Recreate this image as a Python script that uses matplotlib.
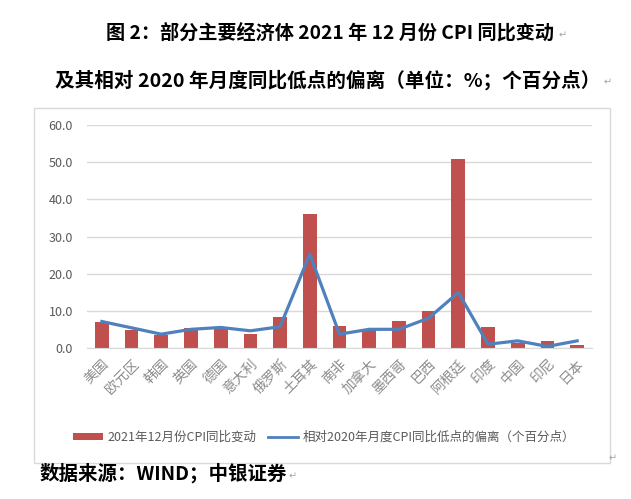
import matplotlib
matplotlib.use('Agg')
from matplotlib import pyplot as plt
from matplotlib.patches import Rectangle, Patch
from matplotlib.lines import Line2D
import numpy as np

plt.rcParams['font.family'] = ['Noto Sans CJK SC', 'DejaVu Sans']

paises = ['美国', '欧元区', '韩国', '英国', '德国', '意大利', '俄罗斯', '土耳其', '南非',
          '加拿大', '墨西哥', '巴西', '阿根廷', '印度', '中国', '印尼', '日本']
cpi_2021_12 = [7.0, 5.0, 3.7, 5.4, 5.3, 3.9, 8.4, 36.1, 5.9,
               4.8, 7.4, 10.1, 50.9, 5.6, 1.5, 1.9, 0.8]
desvio_baixa = [7.2, 5.5, 3.8, 5.1, 5.6, 4.7, 5.8, 25.3, 3.8,
                5.1, 5.1, 8.1, 15.0, 1.1, 2.0, 0.5, 2.0]

nome_barra = '2021年12月份CPI同比变动'
nome_linha = '相对2020年月度CPI同比低点的偏离（个百分点）'

W, H = 631, 499
fig = plt.figure(figsize=(W / 100, H / 100), dpi=100)

# moldura do grafico
fig.patches.append(Rectangle((34 / W, 1 - 463 / H), (610 - 34) / W, (463 - 108) / H,
                             transform=fig.transFigure, fill=False,
                             edgecolor='#D9D9D9', linewidth=1))

ax = fig.add_axes([87 / W, 1 - 348.3 / H, (592 - 87) / W, (348.3 - 125) / H])
x = np.arange(len(paises))
ax.bar(x, cpi_2021_12, width=0.46, color='#C0504D', zorder=2)
ax.plot(x, desvio_baixa, color='#4F81BD', linewidth=2.3, zorder=3)

ax.set_xlim(-0.5, len(paises) - 0.5)
ax.set_ylim(0, 60)
ax.set_yticks(np.arange(0, 61, 10))
ax.set_yticklabels([f'{v:.1f}' for v in np.arange(0, 61, 10)])
ax.yaxis.grid(True, color='#D9D9D9', linewidth=1, zorder=0)
ax.set_axisbelow(True)
for lado in ['top', 'right', 'left']:
    ax.spines[lado].set_visible(False)
ax.spines['bottom'].set_color('#D9D9D9')
ax.tick_params(axis='y', length=0, labelsize=9, labelcolor='#595959', pad=10)
ax.tick_params(axis='x', length=0, labelsize=10, labelcolor='#8C8C8C', pad=6)
ax.set_xticks(x)
ax.set_xticklabels(paises, rotation=45, ha='right', rotation_mode='anchor')

leg_itens = [Patch(facecolor='#C0504D', label=nome_barra),
             Line2D([0], [0], color='#4F81BD', linewidth=2, label=nome_linha)]
fig.legend(handles=leg_itens, loc='center', bbox_to_anchor=(324 / W, 1 - 437 / H),
           ncol=2, frameon=False, fontsize=9, labelcolor='#595959',
           handlelength=2.4, handleheight=0.5, columnspacing=1.0, handletextpad=0.3)

# titulos e fonte
fig.text(330 / W, 1 - 33 / H, '图 2：部分主要经济体 2021 年 12 月份 CPI 同比变动',
         ha='center', va='center', fontsize=13.8, fontweight='bold')
fig.text(328 / W, 1 - 80 / H, '及其相对 2020 年月度同比低点的偏离（单位：%；个百分点）',
         ha='center', va='center', fontsize=14.1, fontweight='bold')
fig.text(40 / W, 1 - 473 / H, '数据来源：WIND；中银证券',
         ha='left', va='center', fontsize=14, fontweight='bold')

# marcas de paragrafo
for xm, ym in [(563, 35), (608, 82), (613, 458), (293, 476)]:
    fig.text(xm / W, 1 - ym / H, '↵', ha='center', va='center',
             fontsize=7, color='#A6A6A6', family=['DejaVu Sans'])

fig.savefig('out.png', dpi=100)
